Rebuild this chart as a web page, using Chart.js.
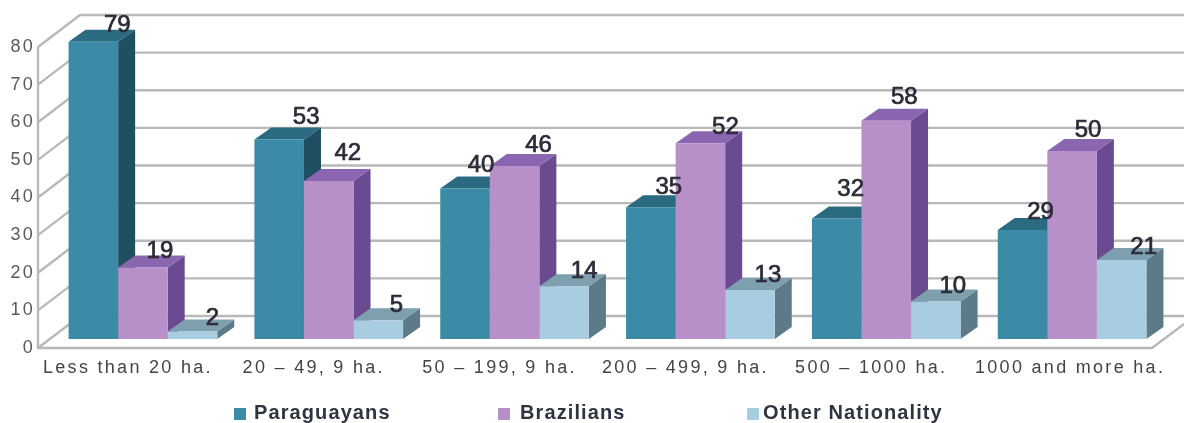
<!DOCTYPE html>
<html>
<head>
<meta charset="utf-8">
<title>Landholders by farm size</title>
<style>
  html, body { margin: 0; padding: 0; background: #fff; }
  #chart { display: block; }
</style>
<script src="https://cdn.jsdelivr.net/npm/chart.js@4"></script>
</head>
<body>
<canvas id="chart" width="1184" height="423"></canvas>
<script>
const categories = ['Less than 20 ha.', '20 – 49, 9 ha.', '50 – 199, 9 ha.', '200 – 499, 9 ha.', '500 – 1000 ha.', '1000 and more ha.'];
const paraguayans = [79, 53, 40, 35, 32, 29];
const brazilians = [19, 42, 46, 52, 58, 50];
const otherNationality = [2, 5, 14, 13, 10, 21];

// hand placement of the value labels, [dx, dy] from the middle of each bar top
const labelNudge = [
    [[24, -16], [27, -22], [16, -23], [18, -20], [14, -29], [18, -18]],
    [[17, -16], [19, -28], [24, -21], [25, -16], [18, -23], [16, -21]],
    [[20, -13], [18, -15], [20, -15], [18, -15], [17, -15], [22, -13]]
];

const FRONT_SHIFT = { x: -12, y: 9 };   // from the bar plane to the front of the floor
const BACK_SHIFT = { x: 30, y: -23 };   // from the bar plane to the back wall
const BAR_DEPTH = { x: 17, y: -12 };
const WALL_LEFT = 50;
const FLOOR_RIGHT = 1152;

const faces = [
    { front: '#3b8aa6', side: '#1f4f61', top: '#2a6b82' },
    { front: '#b890c9', side: '#6a4a90', top: '#8b66b0' },
    { front: '#a8cde0', side: '#5d7a88', top: '#7d9fae' }
];

function polygon(ctx, points, color) {
    ctx.fillStyle = color;
    ctx.beginPath();
    points.forEach((p, i) => i ? ctx.lineTo(p[0], p[1]) : ctx.moveTo(p[0], p[1]));
    ctx.closePath();
    ctx.fill();
}

// floor, side wall and back wall lines, placed off the y scale
const wallsPlugin = {
    id: 'walls',
    beforeDraw(chart) {
        const ctx = chart.ctx;
        const yScale = chart.scales.y;
        const base = yScale.getPixelForValue(0);
        const frontX = WALL_LEFT + FRONT_SHIFT.x;
        const backX = WALL_LEFT + BACK_SHIFT.x;
        ctx.save();
        ctx.strokeStyle = '#b9b9b9';
        ctx.lineWidth = 2.4;
        ctx.beginPath();
        yScale.ticks.forEach(t => {
            const y = yScale.getPixelForValue(t.value);
            ctx.moveTo(frontX, y + FRONT_SHIFT.y);
            ctx.lineTo(backX, y + BACK_SHIFT.y);
            ctx.lineTo(chart.width, y + BACK_SHIFT.y);
        });
        ctx.moveTo(frontX, yScale.getPixelForValue(80) + FRONT_SHIFT.y);
        ctx.lineTo(frontX, base + FRONT_SHIFT.y);
        ctx.lineTo(FLOOR_RIGHT, base + FRONT_SHIFT.y);
        ctx.lineTo(chart.width, base + FRONT_SHIFT.y - 24);
        ctx.stroke();
        ctx.restore();
    }
};

// side and top faces go under the library's bars so each front hides its left neighbour
const depthPlugin = {
    id: 'depth',
    beforeDatasetsDraw(chart) {
        const ctx = chart.ctx;
        const dx = BAR_DEPTH.x, dy = BAR_DEPTH.y;
        ctx.save();
        chart.data.datasets.forEach((ds, d) => {
            chart.getDatasetMeta(d).data.forEach(bar => {
                const p = bar.getProps(['x', 'y', 'base', 'width']);
                const l = p.x - p.width / 2, r = p.x + p.width / 2;
                polygon(ctx, [[r, p.y], [r + dx, p.y + dy], [r + dx, p.base + dy], [r, p.base]], faces[d].side);
                polygon(ctx, [[l, p.y], [l + dx, p.y + dy], [r + dx, p.y + dy], [r, p.y]], faces[d].top);
            });
        });
        ctx.restore();
    }
};

const valueLabelsPlugin = {
    id: 'valueLabels',
    afterDatasetsDraw(chart) {
        const ctx = chart.ctx;
        ctx.save();
        ctx.letterSpacing = '0px';
        ctx.font = '24px "Liberation Sans"';
        ctx.fillStyle = '#2b2b38';
        ctx.strokeStyle = '#2b2b38';
        ctx.lineWidth = 0.7;
        ctx.textAlign = 'center';
        ctx.textBaseline = 'middle';
        chart.data.datasets.forEach((ds, d) => {
            chart.getDatasetMeta(d).data.forEach((bar, i) => {
                const nudge = labelNudge[d][i];
                ctx.fillText(ds.data[i], bar.x + nudge[0], bar.y + nudge[1]);
                ctx.strokeText(ds.data[i], bar.x + nudge[0], bar.y + nudge[1]);
            });
        });
        ctx.restore();
    }
};

// legend sits on uneven stops, so it is laid out here rather than by the built-in one
const legendSwatchX = [234, 498, 747];
const legendTextX = [254, 520, 763];
const legendPlugin = {
    id: 'looseLegend',
    afterDraw(chart) {
        const ctx = chart.ctx;
        ctx.save();
        ctx.letterSpacing = '1.1px';
        ctx.font = 'bold 20px "Liberation Sans"';
        ctx.textBaseline = 'middle';
        chart.data.datasets.forEach((ds, d) => {
            ctx.fillStyle = ds.backgroundColor;
            ctx.fillRect(legendSwatchX[d], 408, 12, 12);
            ctx.fillStyle = '#2e3440';
            ctx.fillText(ds.label, legendTextX[d], 413);
        });
        ctx.restore();
    }
};

// tick text is tracked out wide, and the last category label sits further right
const tickStylePlugin = {
    id: 'tickStyle',
    beforeDraw(chart) {
        chart.ctx.letterSpacing = '2.3px';
        const last = chart.scales.x.getLabelItems()[categories.length - 1];
        last.options.translation = [last.options.translation[0] + 13, last.options.translation[1]];
    }
};

new Chart(document.getElementById('chart'), {
    type: 'bar',
    data: {
        labels: categories,
        datasets: [
            { label: 'Paraguayans', data: paraguayans, backgroundColor: faces[0].front },
            { label: 'Brazilians', data: brazilians, backgroundColor: faces[1].front },
            { label: 'Other Nationality', data: otherNationality, backgroundColor: faces[2].front }
        ]
    },
    options: {
        responsive: false,
        animation: false,
        layout: { padding: { top: 38, right: 19, left: 0, bottom: 0 } },
        datasets: { bar: { barPercentage: 1, categoryPercentage: 0.8, borderWidth: 0 } },
        scales: {
            x: {
                afterFit(scale) { scale.height = 84; },
                grid: { display: false },
                border: { display: false },
                ticks: {
                    font: { family: '"Liberation Sans"', size: 18 },
                    color: '#444',
                    padding: 10,
                    labelOffset: -15,
                    maxRotation: 0,
                    autoSkip: false
                }
            },
            y: {
                min: 0,
                max: 80,
                afterFit(scale) { scale.width = 50; },
                grid: { display: false },
                border: { display: false },
                ticks: {
                    font: { family: '"Liberation Sans"', size: 18 },
                    color: '#5a5a5a',
                    stepSize: 10,
                    padding: 7,
                    labelOffset: 9
                }
            }
        },
        plugins: { legend: { display: false }, tooltip: { enabled: false } }
    },
    plugins: [tickStylePlugin, wallsPlugin, depthPlugin, valueLabelsPlugin, legendPlugin]
});
</script>
</body>
</html>
